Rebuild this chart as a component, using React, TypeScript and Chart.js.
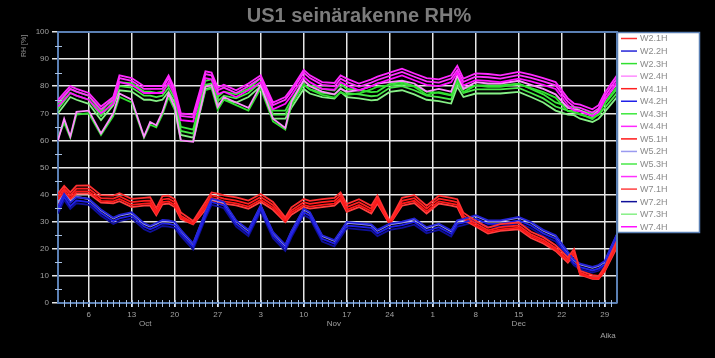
import React, { useEffect, useRef } from 'react';
import { Chart, registerables } from 'chart.js';

Chart.register(...registerables);

// Day index from 1 Oct (0) to 31 Dec (91)
const days = [0,1,2,3,5,7,9,10,12,14,15,16,17,18,19,20,22,24,25,26,27,29,31,33,35,37,38,40,41,43,45,46,47,49,51,52,54,56,58,60,62,64,65,66,68,70,72,75,77,79,81,83,84,85,87,88,89,91];

const W2_1H = [40.3,43.2,40.8,43.3,43.4,39.8,39.6,40.5,38.4,38.8,39,35,39.4,39.6,38.3,33.4,30.3,37.3,40.8,40.4,39.7,39,37.8,40.2,37.3,31.6,35.3,38.4,37.7,38.3,38.8,40.8,36.5,38.3,35.9,39.6,30.3,38.8,39.8,35.9,39.6,38.8,38.3,33.3,30.3,27.8,29.1,29.7,26.3,24.3,21.3,16.8,19.9,11.9,10.3,10,13.3,23];
const W2_2H = [35.5,40.3,37,39,38.5,34.5,31.5,32.5,33.5,29.5,28.5,29.5,30.7,30.5,30,27,22,33.5,38.5,38,37.3,30.5,27,36,26.2,21.5,26.5,34.8,33.5,25,23.2,26.5,29.9,29.5,29,27,29.3,30,31.2,28,29.3,26.8,30.5,31,32.4,30.5,30.5,31.8,29.9,27,25,18.9,16,14.5,13.3,14,15.5,25.5];
const W2_3H = [61,66.5,61,69.5,70,62,69,76,74,61,65.8,64.8,69.5,76,71.3,59.8,59.8,78.5,79.2,71.3,75,73,71,79.2,67,64,73,80.8,78.8,76.8,75.8,77.8,76.8,77.3,78.8,79.8,80.3,80.8,79.8,76.8,77.8,76.8,82.8,77.8,80.3,79.8,79.8,80.8,79.3,77.8,75.8,70.8,70.3,69.8,67.8,69.8,73.8,79.8];
const W2_4H = [60,68,61.4,70.5,71,62.6,70,77.3,75,61.4,66.8,65.6,70.5,77.3,72.3,60,59.5,79.8,80.4,72.3,76,74,72,80.4,68,64.6,74.2,82.2,80,78,77,79,78,78.5,80,81,81.5,82,81,78,79,78,84,79,81.5,81,81,82,80.5,79,77,72,71.5,71,69,71,75,81];
const W4_1H = [39.2,42.2,39.7,42.2,42.2,38.7,38.5,39.4,37.2,37.7,37.8,33.8,38.2,38.5,37.2,32.2,29.6,36.2,39.7,39.2,38.5,37.8,36.6,39.1,36.2,30.8,34.2,37.2,36.6,37.2,37.7,39.7,35.4,37.2,34.8,38.5,29.6,37.7,38.7,34.8,38.5,37.7,37.2,32.2,29.3,26.8,28,28.6,25.3,23.3,20.3,15.9,19,11.2,9.5,9.3,12.5,22];
const W4_2H = [34.2,39.2,35.7,37.8,37.2,33.2,30.2,31.2,32.2,28.2,27.2,28.2,29.4,29.2,28.7,25.7,20.7,32.2,37.2,36.7,36,29.2,25.7,34.8,24.9,20.2,25.2,33.5,32.2,23.7,21.9,25.2,28.6,28.2,27.7,25.7,28,28.7,29.9,26.7,28,25.5,29.2,29.7,31.1,29.2,29.2,30.5,28.6,25.7,23.7,17.6,14.7,13.2,12,12.7,14.2,24.2];
const W4_3H = [73,76,79,78,76.5,70.5,76,81.5,81,78,78,77.5,78,81,77,65,64,82,82.5,76,78,77,79,83,71,71,75,82,80.3,79,78.4,80.9,79,78.5,77.8,78,80.9,81.5,80,78,77.5,76.6,82.8,79,80.3,80.3,80.3,80.9,79,77,74,72.5,72.3,71,69.8,71,73.5,79];
const W4_4H = [75,77.5,80,79,77.5,72.5,76,84,83,80,80,80,80,84,79,70,69.5,85.5,85,79.5,80.5,78.5,81,84,74,76,79,86,84,81.5,81.2,84,82.8,81,82.5,83.5,85,86.5,84.7,83,82.5,84,87.5,82.8,84.7,84.5,84,85.3,84.3,83,81.5,75.5,73.6,73.2,71.5,73,77.5,84];
const W5_1H = [38.2,41.2,38.7,41.2,41.2,37.7,37.5,38.4,36.2,36.7,36.8,33,37.2,37.5,36.2,31.5,29.2,35.2,38.7,38.2,37.5,36.8,35.6,38.1,35.2,30.2,33.4,36.2,35.6,36.2,36.7,38.7,34.4,36.2,33.8,37.5,29.2,36.7,37.7,33.8,37.5,36.7,36.2,31.4,28.6,26.2,27.2,27.8,24.6,22.6,19.8,15.4,18.4,10.8,9.2,9,12,21.4];
const W5_2H = [37,41.5,37.5,39.2,38.3,34.2,31.2,32.2,33.2,29.2,28.2,29.2,30.4,30.2,29.7,26.7,21.7,33.2,38.2,37.7,37,30.2,26.7,35.8,25.9,21.2,26.2,34.5,33.2,24.7,22.9,26.2,29.6,29.2,28.7,26.7,29,29.7,30.9,27.7,29,26.5,30.2,30.7,32.1,30.2,30.2,31.5,29.6,26.7,24.7,18.6,15.7,14.2,13,13.7,15.2,25.2];
const W5_3H = [71.5,74.5,77.5,76.5,75,69,74.5,80,79.5,76.5,76.5,76,76.5,79.5,75.5,63.5,62.5,80.5,81,74.5,76.5,75.5,77.5,81.5,69.5,69.5,73.5,80.5,78.8,77.5,76.9,79.4,77.5,77,76.3,76.5,79.4,80,78.5,76.5,76,75.1,81.3,77.5,78.8,78.8,78.8,79.4,77.5,75.5,72.5,71,70.8,69.5,68.3,69.5,72,77.5];
const W5_4H = [74,76.5,79,78,76.5,71.5,75,83,82,79,79,79,79,83,78,69,68.5,84.5,84,78.5,79.5,77.5,80,83,73,75,78,85,83,80.5,80,82.8,81.6,79.8,81.3,82.3,83.8,85.3,83.5,81.8,81.3,82.8,86,81.6,83.5,83.3,82.8,84.1,83.1,81.8,80.3,74.3,72.4,72,70.3,71.8,76.3,82.8];
const W7_1H = [36.5,40.2,38,40.4,40.4,37,36.8,37.6,35.4,35.9,36,32.4,36.4,36.7,35.4,31,29,34.4,37.9,37.4,36.7,36,34.8,37.3,34.4,29.8,32.6,35.4,34.8,35.4,35.9,37.9,33.6,35.4,33,36.7,29,35.9,36.9,33,36.7,35.9,35.4,30.8,28.2,25.6,26.6,27.2,24,22,19.2,14.9,17.8,10.4,8.9,8.8,11.6,20.6];
const W7_2H = [33,38,34.7,36.8,36.2,32.2,29.2,30.2,31.2,27.2,26.2,27.2,28.4,28.2,27.7,24.7,19.7,31.2,36.2,35.7,35,28.2,24.7,33.8,23.9,19.2,24.2,32.5,31.2,22.7,20.9,24.2,27.6,27.2,26.7,24.7,27,27.7,28.9,25.7,27,24.5,28.2,28.7,30.1,28.2,28.2,29.5,27.6,24.7,22.7,16.8,13.9,12.4,11.2,11.9,13.4,23.4];
const W7_3H = [70,73,76,75,73.5,67.5,73,78.5,78,75,75,74.5,75,78,74,62,61,79,79.5,73,75,74,76,80,68,68,72,79,77.3,76,75.4,77.9,76,75.5,74.8,75,77.9,78.5,77,75,74.5,73.6,79.8,76,77.3,77.3,77.3,77.9,76,74,71,69.5,69.3,68,66.8,68,70.5,76];
const W7_4H = [72.5,75,77.5,76.5,75,70,73.5,81.5,80.5,77.5,77.5,77.5,77.5,81.5,76.5,67.5,67,83,82.5,77,78,76,78.5,81.5,71.5,73.5,76.5,83.5,81.5,79,78.7,81.5,80.3,78.5,80,81,82.5,84,82.2,80.5,80,81.5,85,80.3,82.2,82,81.5,82.8,81.8,80.5,79,73,71.1,70.7,69,70.5,75,81.5];

const seriesNames = ['W2.1H','W2.2H','W2.3H','W2.4H','W4.1H','W4.2H','W4.3H','W4.4H','W5.1H','W5.2H','W5.3H','W5.4H','W7.1H','W7.2H','W7.3H','W7.4H'];
const seriesValues = [W2_1H,W2_2H,W2_3H,W2_4H,W4_1H,W4_2H,W4_3H,W4_4H,W5_1H,W5_2H,W5_3H,W5_4H,W7_1H,W7_2H,W7_3H,W7_4H];
const seriesColors = ['#ff3030','#2424d8','#30e030','#ff8cff','#ff2020','#2020e8','#3ce83c','#ff28ff','#ff1818','#9a9af0','#48e848','#ff30ff','#ff4040','#10109a','#86f086','#ff10ff'];
// drawing order (lower = on top)
const seriesOrder = [4,4,3,2,4,4,3,1,4,4,3,1,4,4,3,1];

const tickDays = [5,12,19,26,33,40,47,54,61,68,75,82,89];
const tickLabels = ['6','13','20','27','3','10','17','24','1','8','15','22','29'];
const monthDays = [14.2,44.9,75];
const monthLabels = ['Oct','Nov','Dec'];

const TITLE = 'US1 seinärakenne RH%';
const Y_TITLE = 'RH [%]';
const X_TITLE = 'Aika';
const FONT = '"Liberation Sans", Arial, sans-serif';
const AXIS_BLUE = '#5b80b4';

const decorPlugin = {
  id: 'decor',
  afterDraw(chart: any) {
    const ctx = chart.ctx;
    const { left, right, top, bottom } = chart.chartArea;
    const xs = chart.scales.x;
    const ys = chart.scales.y;
    ctx.save();
    ctx.strokeStyle = AXIS_BLUE;
    ctx.lineWidth = 2;
    ctx.beginPath();
    ctx.moveTo(left, top);
    ctx.lineTo(right, top);
    ctx.lineTo(right, bottom);
    ctx.stroke();
    ctx.strokeStyle = '#a8c0e0';
    ctx.lineWidth = 1;
    for (let d = 1; d < 91; d++) {
      const x = Math.round(xs.getPixelForValue(d)) + 0.5;
      ctx.beginPath();
      ctx.moveTo(x, bottom - 3);
      ctx.lineTo(x, bottom + 4);
      ctx.stroke();
    }
    for (let v = 5; v < 100; v += 10) {
      const y = Math.round(ys.getPixelForValue(v)) + 0.5;
      ctx.beginPath();
      ctx.moveTo(left - 3, y);
      ctx.lineTo(left + 4, y);
      ctx.stroke();
    }
    ctx.fillStyle = '#a0a0a0';
    ctx.font = `8px ${FONT}`;
    ctx.textAlign = 'center';
    ctx.textBaseline = 'middle';
    monthDays.forEach((d, i) => {
      ctx.fillText(monthLabels[i], xs.getPixelForValue(d), 324);
    });
    ctx.fillText(X_TITLE, 608, 336);
    ctx.save();
    ctx.translate(24, 46);
    ctx.rotate(-Math.PI / 2);
    ctx.font = `7px ${FONT}`;
    ctx.fillStyle = '#909090';
    ctx.fillText(Y_TITLE, 0, 0);
    ctx.restore();
    ctx.font = `bold 20px ${FONT}`;
    ctx.fillStyle = '#7c7c7c';
    ctx.fillText(TITLE, 359, 16);
    const lx = 617, ly = 32, lw = 82, lh = 200;
    ctx.fillStyle = '#ffffff';
    ctx.fillRect(lx, ly, lw, lh);
    ctx.strokeStyle = AXIS_BLUE;
    ctx.lineWidth = 1.5;
    ctx.strokeRect(lx + 0.5, ly + 0.5, lw, lh);
    ctx.font = `9px ${FONT}`;
    ctx.textAlign = 'left';
    seriesNames.forEach((name, i) => {
      const y = 38.5 + i * 12.55;
      ctx.strokeStyle = seriesColors[i];
      ctx.lineWidth = 1.5;
      ctx.beginPath();
      ctx.moveTo(621, y);
      ctx.lineTo(637, y);
      ctx.stroke();
      ctx.fillStyle = '#8a8a8a';
      ctx.fillText(name, 640, y + 0.5);
    });
    ctx.restore();
  },
};

export default function App() {
  const ref = useRef<HTMLCanvasElement | null>(null);
  useEffect(() => {
    if (!ref.current) return;
    document.body.style.margin = '0';
    document.body.style.background = '#000';
    const datasets = seriesNames.map((name, i) => ({
      label: name,
      data: days.map((d, j) => ({ x: d, y: seriesValues[i][j] })),
      borderColor: seriesColors[i],
      backgroundColor: seriesColors[i],
      borderWidth: 1.8,
      pointRadius: 0,
      tension: 0,
      fill: false,
      order: seriesOrder[i],
    }));
    const chart = new Chart(ref.current, {
      type: 'line',
      data: { datasets },
      options: {
        animation: false,
        responsive: false,
        maintainAspectRatio: false,
        devicePixelRatio: 1,
        layout: { padding: { left: 0, right: 98, top: 32, bottom: 0 } },
        plugins: { legend: { display: false }, title: { display: false }, tooltip: { enabled: false } },
        scales: {
          x: {
            type: 'linear',
            min: 0,
            max: 91,
            afterBuildTicks: (scale: any) => {
              scale.ticks = tickDays.map((v) => ({ value: v }));
            },
            afterFit: (scale: any) => { scale.height = 55; },
            ticks: {
              autoSkip: false,
              maxRotation: 0,
              color: '#a0a0a0',
              font: { size: 8, family: FONT },
              padding: 3,
              callback: (v: any) => {
                const k = tickDays.indexOf(Number(v));
                return k >= 0 ? tickLabels[k] : '';
              },
            },
            grid: { color: '#e6e6e6', lineWidth: 1.5, tickLength: 4, drawTicks: true },
            border: { color: AXIS_BLUE, width: 2 },
          },
          y: {
            min: 0,
            max: 100,
            afterFit: (scale: any) => { scale.width = 58; },
            ticks: { stepSize: 10, color: '#a0a0a0', font: { size: 8, family: FONT }, padding: 3 },
            grid: { color: '#e6e6e6', lineWidth: 1.5, tickLength: 6, drawTicks: true },
            border: { color: AXIS_BLUE, width: 2 },
          },
        },
      },
      plugins: [decorPlugin],
    } as any);
    return () => chart.destroy();
  }, []);
  return (
    <div style={{ position: 'fixed', left: 0, top: 0, width: 715, height: 358, background: '#000' }}>
      <canvas ref={ref} width={715} height={358} style={{ display: 'block' }} />
    </div>
  );
}
